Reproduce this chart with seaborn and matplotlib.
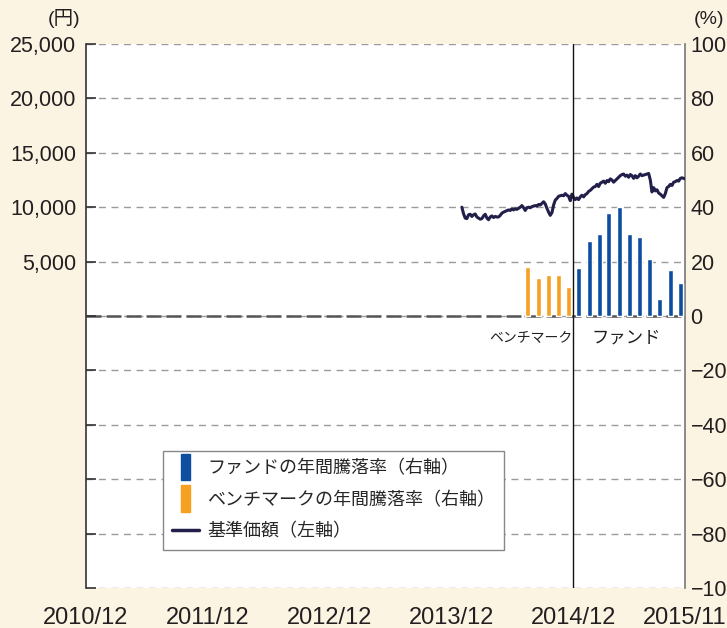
import numpy as np
import pandas as pd
import matplotlib
matplotlib.use("Agg")
import matplotlib.pyplot as plt
import seaborn as sns
import matplotlib.ticker as mticker
from matplotlib.patches import Patch, Rectangle
from matplotlib.lines import Line2D
from matplotlib.legend_handler import HandlerPatch

# ---------------- data ----------------
nav_start = "2014-01-01"
nav_values = [
    10000, 9400, 9000, 8950, 9300, 9350, 9150, 9300, 9380, 9100,
    9000, 8900, 8950, 9200, 9350, 9000, 8850, 9100, 9200, 9050,
    9150, 9100, 9100, 9250, 9450, 9550, 9620, 9700, 9750, 9700,
    9850, 9750, 9850, 9800, 9900, 10000, 10150, 9950, 9700, 9950,
    10000, 9950, 10050, 10100, 10150, 10100, 10250, 10200, 10350, 10500,
    10300, 9900, 9550, 9250, 9500, 10200, 10650, 10800, 11000, 11050,
    11100, 11050, 11250, 11100, 11000, 10600, 11200, 10900, 10700, 10850,
    10700, 10950, 11100, 10950, 11150, 11250, 11450, 11550, 11700, 11850,
    11900, 12100, 11900, 12200, 12300, 12400, 12200, 12450, 12350, 12600,
    12500, 12300, 12450, 12600, 12750, 12900, 13000, 13050, 12850, 12950,
    12750, 13000, 12900, 12650, 12900, 12700, 12850, 13050, 12900, 12950,
    13000, 13050, 13100, 12500, 11400, 11800, 11500, 11600, 11300, 11200,
    11050, 10900, 11250, 11800, 11900, 12100, 12000, 12300, 12350, 12450,
    12400, 12650, 12700, 12650, 12600,
]

bench_months = ["2014-07", "2014-08", "2014-09", "2014-10", "2014-11"]
bench_returns = [18.0, 14.1, 15.2, 14.9, 10.5]

fund_months = ["2014-12", "2015-01", "2015-02", "2015-03", "2015-04", "2015-05",
               "2015-06", "2015-07", "2015-08", "2015-09", "2015-10"]
fund_returns = [17.7, 27.6, 30.2, 37.9, 39.9, 30.0, 29.0, 20.8, 6.2, 16.8, 12.2]

x_tick_labels = ["2010/12", "2011/12", "2012/12", "2013/12", "2014/12", "2015/11"]
left_ticks = list(range(-25000, 25001, 5000))
right_ticks = list(range(-100, 101, 20))

legend_labels = ["ファンドの年間騰落率（右軸）", "ベンチマークの年間騰落率（右軸）", "基準価額（左軸）"]

# ---------------- styling ----------------
BG = "#fcf4e3"
BLUE = "#0d4ea0"
ORANGE = "#f5a021"
NAVY = "#22204a"
TXT = "#231f20"

sns.set_theme(style="white")
plt.rcParams["font.family"] = ["Liberation Sans", "Noto Sans CJK JP"]
plt.rcParams["axes.unicode_minus"] = True

nav_df = pd.DataFrame({
    "date": pd.date_range(nav_start, periods=len(nav_values), freq="5D"),
    "nav": nav_values,
})
bench_dates = pd.to_datetime(bench_months) + pd.Timedelta(days=17)
fund_dates = pd.to_datetime(fund_months) + pd.Timedelta(days=17)
x_ticks = pd.to_datetime([s.replace("/", "-") + "-01" for s in x_tick_labels])

fig = plt.figure(figsize=(7.27, 6.28), dpi=100, facecolor=BG)
ax = fig.add_axes([86 / 727, 1 - 588 / 628, 599 / 727, 544 / 628])
ax2 = ax.twinx()

# layering: ax2 (grid + bars) behind, ax (line) in front
ax.set_zorder(ax2.get_zorder() + 1)
ax.patch.set_visible(False)
ax2.patch.set_visible(True)
ax2.patch.set_facecolor("white")

# bars on right axis
ax2.bar(bench_dates, bench_returns, width=15, color=ORANGE, zorder=3)
ax2.bar(fund_dates, fund_returns, width=15, color=BLUE, zorder=3)
ax2.set_ylim(-100, 100)
ax2.set_yticks(right_ticks)
ax2.yaxis.set_major_formatter(mticker.FuncFormatter(lambda v, p: f"{int(v)}".replace("-", "\u2212")))
ax2.set_axisbelow(True)
ax2.yaxis.grid(True, linestyle=(0, (5, 4)), color="#9a9a9a", linewidth=1)
ax2.axhline(0, color="#555555", linewidth=1.8, linestyle=(0, (6, 2)), zorder=2)
ax2.tick_params(axis="y", direction="in", length=0, pad=4, labelsize=15.5, colors=TXT)
ax2.tick_params(axis="x", length=0, labelbottom=False)
for s in ["top", "bottom", "left"]:
    ax2.spines[s].set_visible(False)
ax2.spines["right"].set_color("#777777")
ax2.spines["right"].set_linewidth(1.2)

# NAV line on left axis
sns.lineplot(data=nav_df, x="date", y="nav", ax=ax, color=NAVY, linewidth=2.2)
ax.set_ylim(-25000, 25000)
ax.set_yticks(left_ticks)
ax.yaxis.set_major_formatter(mticker.FuncFormatter(lambda v, p: f"{int(v):,}" if v > 0 else ""))
ax.set_xlim(x_ticks[0], x_ticks[-1])
ax.set_xticks(x_ticks)
ax.set_xticklabels(x_tick_labels)
ax.set_xlabel("")
ax.set_ylabel("")
ax.axvline(pd.Timestamp("2014-12-01"), color="#111111", linewidth=1.0)
ax.tick_params(axis="y", direction="in", length=7, width=1.2, color="#333333",
               pad=7, labelsize=15.5, labelcolor=TXT)
ax.tick_params(axis="x", direction="in", length=10, width=1.0, color="#666666",
               pad=14, labelsize=17, labelcolor=TXT)
for s in ["top", "bottom", "right"]:
    ax.spines[s].set_visible(False)
ax.spines["left"].set_color("#333333")
ax.spines["left"].set_linewidth(1.2)

# annotations
ax2.text(pd.Timestamp("2014-11-28"), -8, "ベンチマーク", ha="right", va="center",
         fontsize=10, color=TXT)
ax2.text(pd.Timestamp("2015-05-10"), -8, "ファンド", ha="center", va="center",
         fontsize=12.5, color=TXT)

fig.text(80 / 727, 1 - 19 / 628, "(円)", ha="right", va="center", fontsize=14, color=TXT)
fig.text(694 / 727, 1 - 19 / 628, "(%)", ha="left", va="center", fontsize=14, color=TXT)

# legend
def narrow_patch(legend, orig_handle, xdescent, ydescent, width, height, fontsize):
    w = 7
    ext = 5
    return Rectangle((-xdescent + width / 2 - w / 2, -ydescent - ext), w, height + 2 * ext)

handles = [Patch(color=BLUE), Patch(color=ORANGE), Line2D([], [], color=NAVY, linewidth=2.5)]
leg = ax.legend(handles, legend_labels, loc="upper left",
                bbox_to_anchor=((163 - 86) / 599, (588 - 451) / 544),
                borderaxespad=0, fontsize=13, handlelength=1.5, handletextpad=0.45,
                labelspacing=0.8, borderpad=0.5, frameon=True, fancybox=False,
                framealpha=1, edgecolor="#888888", facecolor="white",
                handler_map={Patch: HandlerPatch(patch_func=narrow_patch)})
leg.get_frame().set_linewidth(1.0)

fig.savefig("out.png", dpi=100, facecolor=BG)
